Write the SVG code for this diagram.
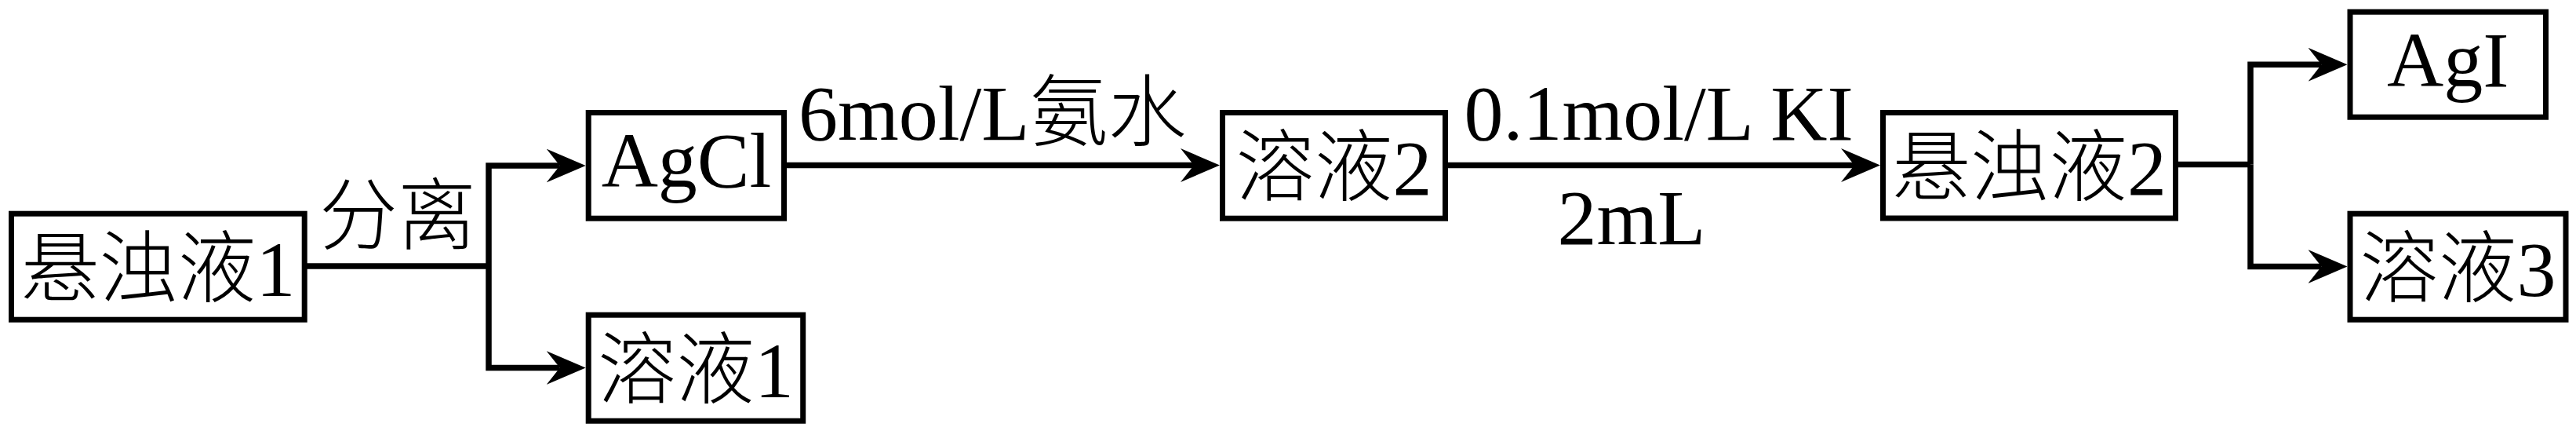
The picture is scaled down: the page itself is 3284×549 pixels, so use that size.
<svg xmlns="http://www.w3.org/2000/svg" width="3284" height="549" viewBox="0 0 3284 549">
<style>
.box{fill:#fff;stroke:#000;stroke-width:7}
.t{font-family:"Liberation Serif","Noto Sans CJK SC",serif;font-size:100px;font-weight:300;fill:#000}
.c{text-anchor:middle}
.ln{fill:none;stroke:#000;stroke-width:7.5;stroke-linejoin:miter;stroke-linecap:butt}
.arr{marker-end:url(#ah)}
</style>
<defs>
<marker id="ah" markerUnits="userSpaceOnUse" viewBox="0 -22 50 44" markerWidth="50" markerHeight="44" refX="17" refY="0" orient="auto">
<path d="M0,-21.5 L50,0 L0,21.5 L17,0 Z" fill="#000"/>
</marker>
</defs>
<rect x="0" y="0" width="3284" height="549" fill="#fff"/>
<g id="connectors">
<path class="ln" d="M391,339 H623"/>
<path class="ln arr" d="M623,339 V211 H713.7"/>
<path class="ln arr" d="M623,339 V468.5 H713.7"/>
<path class="ln arr" d="M1003,210.5 H1522"/>
<path class="ln arr" d="M1846,210.5 H2364"/>
<path class="ln" d="M2777,209.5 H2869"/>
<path class="ln arr" d="M2869,209.5 V82.3 H2959.5"/>
<path class="ln arr" d="M2869,209.5 V339.5 H2959.5"/>
<text class="t c" x="507" y="310">分离</text>
<text class="t" x="1018" y="178">6mol/L氨水</text>
<text class="t" x="1866.5" y="177.5">0.1mol/L KI</text>
<text class="t c" x="2080" y="310.5">2mL</text>
</g>
<g id="node-xuanzhuoye1">
<rect class="box" x="14.5" y="272.2" width="373.7" height="135"/>
<text class="t c" x="201.5" y="377">悬浊液1</text>
</g>
<g id="node-agcl">
<rect class="box" x="750.2" y="143.5" width="249.3" height="134.7"/>
<text class="t c" x="875" y="237.5">AgCl</text>
</g>
<g id="node-rongye1">
<rect class="box" x="750.2" y="401.2" width="273.5" height="135"/>
<text class="t c" x="887" y="506">溶液1</text>
</g>
<g id="node-rongye2">
<rect class="box" x="1558.5" y="143.5" width="284" height="134.7"/>
<text class="t c" x="1700.5" y="248">溶液2</text>
</g>
<g id="node-xuanzhuoye2">
<rect class="box" x="2400.5" y="143.5" width="373" height="134.5"/>
<text class="t c" x="2587" y="248">悬浊液2</text>
</g>
<g id="node-agi">
<rect class="box" x="2996" y="15.2" width="249.5" height="134"/>
<text class="t c" x="3120.7" y="110">AgI</text>
</g>
<g id="node-rongye3">
<rect class="box" x="2996" y="272.2" width="275" height="135"/>
<text class="t c" x="3133.5" y="377">溶液3</text>
</g>
</svg>
